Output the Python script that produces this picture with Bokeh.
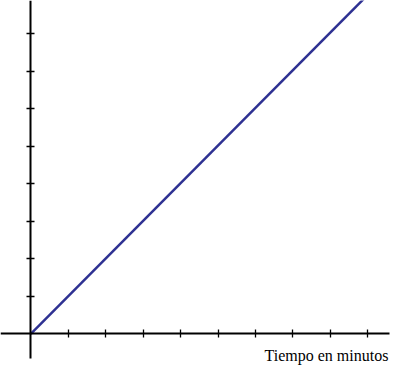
from bokeh.plotting import figure
from bokeh.models import LinearAxis, FixedTicker, Label, Range1d
from bokeh.embed import file_html
from bokeh.resources import INLINE

# data
time_min = [0, 8.91]
value = [0, 8.95]
x_ticks = [1, 2, 3, 4, 5, 6, 7, 8, 9]
y_ticks = [1, 2, 3, 4, 5, 6, 7, 8]
x_label = "Tiempo en minutos"

W, H = 391, 366
ox, oy = 30.3, 333.3          # origin in canvas px
sx, sy = 37.45, 37.5          # px per unit

p = figure(width=W, height=H, output_backend="svg", toolbar_location=None,
           x_axis_type=None, y_axis_type=None,
           x_range=Range1d(-ox / sx, (W - ox) / sx),
           y_range=Range1d(-(H - oy) / sy, oy / sy),
           min_border=0, min_border_left=0, min_border_right=0,
           min_border_top=0, min_border_bottom=0)
p.outline_line_color = None
p.background_fill_color = "white"
p.border_fill_color = "white"

def style(ax):
    ax.axis_line_color = "black"
    ax.axis_line_width = 2
    ax.major_tick_line_color = "black"
    ax.major_tick_line_width = 1.3
    ax.major_tick_in = 4
    ax.major_tick_out = 4
    ax.minor_tick_line_color = None
    ax.major_label_text_font_size = "0px"
    ax.major_label_text_alpha = 0

xax = LinearAxis(ticker=FixedTicker(ticks=x_ticks), fixed_location=0,
                 bounds=(-(ox + 3) / sx, (389 - ox) / sx))
yax = LinearAxis(ticker=FixedTicker(ticks=y_ticks), fixed_location=0,
                 bounds=(-(358 - oy) / sy, (oy + 2) / sy))
style(xax)
style(yax)
p.add_layout(xax, "below")
p.add_layout(yax, "left")

p.line(time_min, value, line_color="#2E3192", line_width=2.5)

p.add_layout(Label(x=(264 - ox) / sx, y=-(363 - oy) / sy, text=x_label,
                   text_font="Liberation Serif", text_font_size="16px",
                   text_color="black", text_baseline="bottom"))

open("out.html", "w").write(file_html(p, INLINE))
